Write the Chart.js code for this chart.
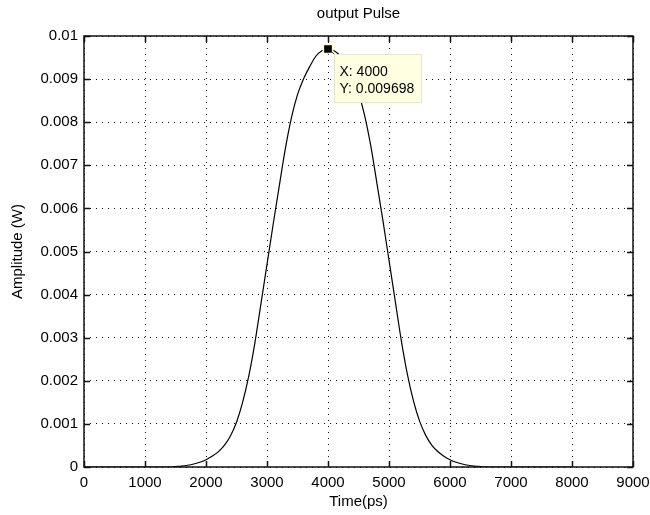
<!DOCTYPE html>
<html>
<head>
<meta charset="utf-8">
<script src="https://cdn.jsdelivr.net/npm/chart.js@4/dist/chart.umd.min.js"></script>
<style>
html,body{margin:0;padding:0;background:#fff;}
#wrap{width:650px;height:515px;position:relative;}
</style>
</head>
<body>
<div id="wrap"><canvas id="c" width="650" height="515"></canvas></div>
<script>
// ---- data ----
const timePs = [0, 1000, 1400, 1500, 1600, 1700, 1800, 1900, 2000, 2100, 2200, 2300, 2400, 2500,
  2600, 2700, 2800, 2900, 3000, 3100, 3200, 3300, 3400, 3500, 3600, 3700, 3800, 3900, 4000,
  4100, 4200, 4300, 4400, 4500, 4600, 4700, 4800, 4900, 5000, 5100, 5200, 5300, 5400, 5500,
  5600, 5700, 5800, 5900, 6000, 6100, 6200, 6300, 6400, 6500, 6600, 7000, 8000];
const amplitudeW = [0, 0, 0, 0.00001, 0.00002, 0.00004, 0.00007, 0.00011, 0.00017, 0.00025, 0.00035, 0.00050, 0.00072, 0.00104,
  0.00150, 0.00210, 0.00287, 0.00378, 0.00470, 0.00562, 0.00651, 0.00738, 0.00810, 0.00864, 0.00901, 0.00929, 0.00953, 0.00966, 0.009698,
  0.00966, 0.00954, 0.00931, 0.00903, 0.00868, 0.00816, 0.00746, 0.00660, 0.00572, 0.00480, 0.00387, 0.00295, 0.00216, 0.00154, 0.00107,
  0.00074, 0.00051, 0.00036, 0.00025, 0.00017, 0.00011, 0.00007, 0.00004, 0.00002, 0.00001, 0, 0, 0];
const markerX = [4000];
const markerY = [0.009698];
const xTicks = [0, 1000, 2000, 3000, 4000, 5000, 6000, 7000, 8000, 9000];
const xTickLabels = ['0', '1000', '2000', '3000', '4000', '5000', '6000', '7000', '8000', '9000'];
const yTicks = [0, 0.001, 0.002, 0.003, 0.004, 0.005, 0.006, 0.007, 0.008, 0.009, 0.01];
const yTickLabels = ['0', '0.001', '0.002', '0.003', '0.004', '0.005', '0.006', '0.007', '0.008', '0.009', '0.01'];
const titleText = 'output Pulse';
const xTitle = 'Time(ps)';
const yTitle = 'Amplitude (W)';

const FONT = "'Liberation Sans', Arial, Helvetica, sans-serif";

const linePts = timePs.map((t, i) => ({x: t, y: amplitudeW[i]}));
const markPts = markerX.map((t, i) => ({x: t, y: markerY[i]}));

const decor = {
  id: 'decor',
  afterDatasetsDraw(chart) {
    const ctx = chart.ctx, a = chart.chartArea;
    const xs = chart.scales.x, ys = chart.scales.y;
    ctx.save();
    // axes box
    ctx.strokeStyle = '#111';
    ctx.lineWidth = 1.5;
    ctx.strokeRect(a.left, a.top, a.right - a.left, a.bottom - a.top);
    // inward ticks
    const TL = 6;
    ctx.beginPath();
    xTicks.forEach(v => {
      const p = Math.round(xs.getPixelForValue(v)) + 0.5;
      ctx.moveTo(p, a.bottom); ctx.lineTo(p, a.bottom - TL);
      ctx.moveTo(p, a.top); ctx.lineTo(p, a.top + TL);
    });
    yTicks.forEach(v => {
      const p = Math.round(ys.getPixelForValue(v)) + 0.5;
      ctx.moveTo(a.left, p); ctx.lineTo(a.left + TL, p);
      ctx.moveTo(a.right, p); ctx.lineTo(a.right - TL, p);
    });
    ctx.stroke();
    ctx.restore();
  },
  afterDraw(chart) {
    const ctx = chart.ctx, a = chart.chartArea;
    const xs = chart.scales.x, ys = chart.scales.y;
    ctx.save();
    ctx.fillStyle = '#000';
    // title
    ctx.font = '15px ' + FONT;
    ctx.textAlign = 'center';
    ctx.textBaseline = 'middle';
    ctx.fillText(titleText, (a.left + a.right) / 2, 14);
    // x title
    ctx.fillText(xTitle, (a.left + a.right) / 2, 502);
    // y title
    ctx.save();
    ctx.translate(18, (a.top + a.bottom) / 2);
    ctx.rotate(-Math.PI / 2);
    ctx.fillText(yTitle, 0, 0);
    ctx.restore();

    // datatip
    const mx = xs.getPixelForValue(markerX[0]);
    const my = ys.getPixelForValue(markerY[0]);
    const bx = Math.round(mx) + 6.5, by = Math.round(my) + 5.5, bw = 87, bh = 48;
    ctx.strokeStyle = '#333';
    ctx.lineWidth = 1;
    ctx.beginPath();
    ctx.moveTo(mx + 4, my + 3); ctx.lineTo(bx + 2, by + 2);
    ctx.stroke();
    ctx.fillStyle = '#ffffe1';
    ctx.fillRect(bx, by, bw, bh);
    ctx.strokeStyle = '#e4e4c8';
    ctx.strokeRect(bx, by, bw, bh);
    ctx.fillStyle = '#000';
    ctx.font = '14px ' + FONT;
    ctx.textAlign = 'left';
    ctx.textBaseline = 'alphabetic';
    ctx.fillText('X: ' + markerX[0], bx + 5, by + 21);
    ctx.fillText('Y: ' + markerY[0], bx + 5, by + 38);
    ctx.restore();
  }
};

new Chart(document.getElementById('c'), {
  type: 'line',
  data: {
    datasets: [
      {
        data: linePts,
        borderColor: '#000',
        borderWidth: 1.2,
        pointRadius: 0,
        fill: false,
        cubicInterpolationMode: 'monotone',
        order: 2
      },
      {
        data: markPts,
        showLine: false,
        pointStyle: 'rect',
        pointRadius: 6.5,
        pointBackgroundColor: '#000',
        pointBorderColor: '#ffffc8',
        pointBorderWidth: 1.5,
        order: 1
      }
    ]
  },
  options: {
    responsive: false,
    animation: false,
    layout: {padding: {left: 0, right: 17, top: 36, bottom: 0}},
    plugins: {legend: {display: false}, title: {display: false}, tooltip: {enabled: false}},
    scales: {
      x: {
        type: 'linear', min: 0, max: 9000,
        afterBuildTicks: s => { s.ticks = xTicks.map(v => ({value: v})); },
        afterFit: s => { s.height = 48; s.paddingLeft = 0; s.paddingRight = 0; },
        grid: {color: '#111', lineWidth: 1, drawTicks: false},
        border: {display: false, dash: [1, 5]},
        ticks: {
          padding: 7, color: '#000', font: {family: FONT, size: 15}, maxRotation: 0, autoSkip: false,
          callback: (v, i) => xTickLabels[i]
        }
      },
      y: {
        type: 'linear', min: 0, max: 0.01,
        afterBuildTicks: s => { s.ticks = yTicks.map(v => ({value: v})); },
        afterFit: s => { s.width = 84; s.paddingTop = 0; s.paddingBottom = 0; },
        grid: {color: '#111', lineWidth: 1, drawTicks: false},
        border: {display: false, dash: [1, 5]},
        ticks: {
          padding: 6, color: '#000', font: {family: FONT, size: 15}, autoSkip: false,
          callback: (v, i) => yTickLabels[i]
        }
      }
    }
  },
  plugins: [decor]
});
</script>
</body>
</html>
